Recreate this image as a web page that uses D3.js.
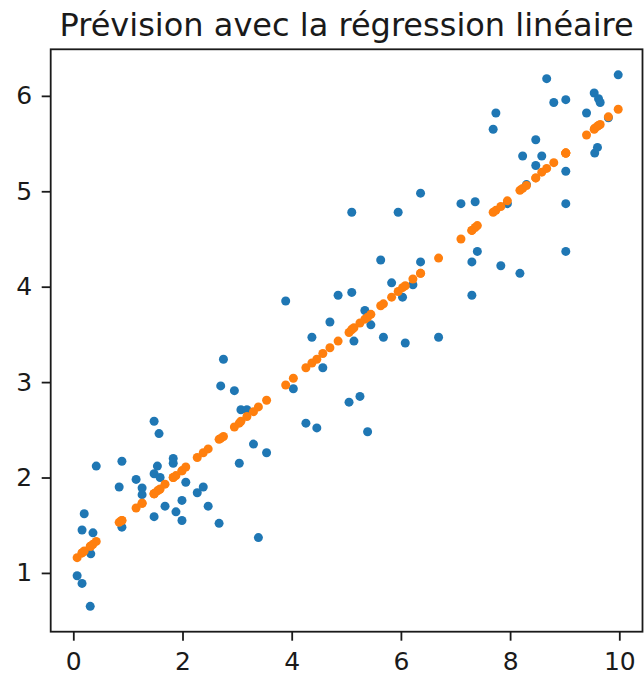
<!DOCTYPE html>
<html>
<head>
<meta charset="utf-8">
<script src="https://cdn.jsdelivr.net/npm/d3@7"></script>
<style>
  body { margin: 0; background: #fff; }
  svg { display: block; }
</style>
</head>
<body>
<svg id="chart" width="644" height="676"></svg>
<script>
// ---- data ----
const title = "Prévision avec la régression linéaire";
const xTicks = [0, 2, 4, 6, 8, 10];
const yTicks = [1, 2, 3, 4, 5, 6];

// observed points
const obsX = [0.07,0.16,0.16,0.20,0.31,0.32,0.36,0.42,0.84,0.89,0.89,1.15,1.26,1.26,1.48,1.57,1.54,1.48,1.59,1.48,
  1.68,1.83,1.83,1.88,1.99,1.99,2.06,2.27,2.38,2.47,2.67,2.70,2.75,2.95,3.04,3.07,3.18,3.30,3.39,3.54,
  3.89,4.03,4.26,4.37,4.46,4.57,4.70,4.85,5.05,5.10,5.10,5.14,5.25,5.34,5.39,5.45,5.63,5.68,5.83,5.95,
  6.03,6.08,6.22,6.36,6.36,6.69,7.10,7.30,7.30,7.36,7.40,7.69,7.74,7.83,7.95,8.18,8.23,8.30,8.47,8.47,
  8.58,8.67,8.80,9.02,9.02,9.02,9.02,9.40,9.54,9.55,9.60,9.62,9.65,9.80,9.98];
const obsY = [0.97,0.89,1.45,1.62,0.65,1.20,1.42,2.12,1.90,2.17,1.48,1.98,1.89,1.82,2.59,2.46,2.12,2.04,2.00,1.59,
  1.70,2.20,2.15,1.64,1.76,1.55,1.95,1.84,1.90,1.70,1.52,2.96,3.24,2.91,2.15,2.71,2.71,2.35,1.37,2.26,
  3.85,2.93,2.57,3.47,2.52,3.15,3.63,3.91,2.79,3.94,4.78,3.43,2.85,3.75,2.48,3.60,4.28,3.47,4.04,4.78,
  3.89,3.41,4.02,4.26,4.98,3.47,4.87,4.26,3.91,4.89,4.37,5.65,5.82,4.22,4.87,4.14,5.37,5.07,5.54,5.27,
  5.37,6.18,5.93,5.96,5.21,4.87,4.37,5.82,6.03,5.40,5.46,5.97,5.93,5.77,6.22];

// predicted points (same x as observations)
const predY = [1.16,1.21,1.21,1.23,1.28,1.28,1.30,1.33,1.53,1.55,1.55,1.68,1.73,1.73,1.83,1.87,1.86,1.83,1.88,1.83,
  1.93,2.00,2.00,2.02,2.07,2.07,2.11,2.21,2.26,2.30,2.40,2.41,2.43,2.53,2.57,2.59,2.64,2.69,2.74,2.81,
  2.97,3.04,3.15,3.20,3.24,3.30,3.36,3.43,3.52,3.55,3.55,3.57,3.62,3.66,3.68,3.71,3.80,3.82,3.89,3.95,
  3.99,4.01,4.08,4.14,4.14,4.30,4.50,4.59,4.59,4.62,4.64,4.78,4.80,4.84,4.90,5.01,5.03,5.06,5.14,5.14,
  5.20,5.24,5.30,5.40,5.40,5.40,5.40,5.59,5.65,5.66,5.68,5.69,5.70,5.78,5.86];

// ---- layout ----
const box = { left: 50.7, right: 642.5, top: 49.3, bottom: 631.7 };
const x = d3.scaleLinear().domain([-0.414, 10.425]).range([box.left, box.right]);
const y = d3.scaleLinear().domain([0.384, 6.488]).range([box.bottom, box.top]);

const svg = d3.select("#chart");
const font = "DejaVu Sans, sans-serif";
const ink = "#1a1a1a";

// title
svg.append("text")
  .attr("x", (box.left + box.right) / 2)
  .attr("y", 36)
  .attr("text-anchor", "middle")
  .attr("font-family", font)
  .attr("font-size", 32)
  .attr("fill", ink)
  .text(title);

// points
const plot = svg.append("g");
plot.selectAll("circle.obs").data(obsX.map((d, i) => [d, obsY[i]]))
  .join("circle").attr("class", "obs")
  .attr("cx", d => x(d[0])).attr("cy", d => y(d[1]))
  .attr("r", 4.5).attr("fill", "#1f77b4");
plot.selectAll("circle.pred").data(obsX.map((d, i) => [d, predY[i]]))
  .join("circle").attr("class", "pred")
  .attr("cx", d => x(d[0])).attr("cy", d => y(d[1]))
  .attr("r", 4.5).attr("fill", "#ff7f0e");

// axes
const xAxis = d3.axisBottom(x).tickValues(xTicks).tickFormat(d3.format("d"))
  .tickSize(9).tickPadding(12).tickSizeOuter(0);
const yAxis = d3.axisLeft(y).tickValues(yTicks).tickFormat(d3.format("d"))
  .tickSize(9).tickPadding(9.5).tickSizeOuter(0);

const gx = svg.append("g").attr("transform", `translate(0,${box.bottom})`).call(xAxis);
const gy = svg.append("g").attr("transform", `translate(${box.left},0)`).call(yAxis);
[gx, gy].forEach(g => {
  g.select(".domain").remove();
  g.selectAll(".tick line").attr("stroke", ink).attr("stroke-width", 1.8);
  g.selectAll(".tick text").attr("font-family", font).attr("font-size", 25).attr("fill", ink);
});
gx.selectAll(".tick text").attr("dy", "0.71em");

// frame
svg.append("rect")
  .attr("x", box.left).attr("y", box.top)
  .attr("width", box.right - box.left).attr("height", box.bottom - box.top)
  .attr("fill", "none").attr("stroke", ink).attr("stroke-width", 1.8);
</script>
</body>
</html>
